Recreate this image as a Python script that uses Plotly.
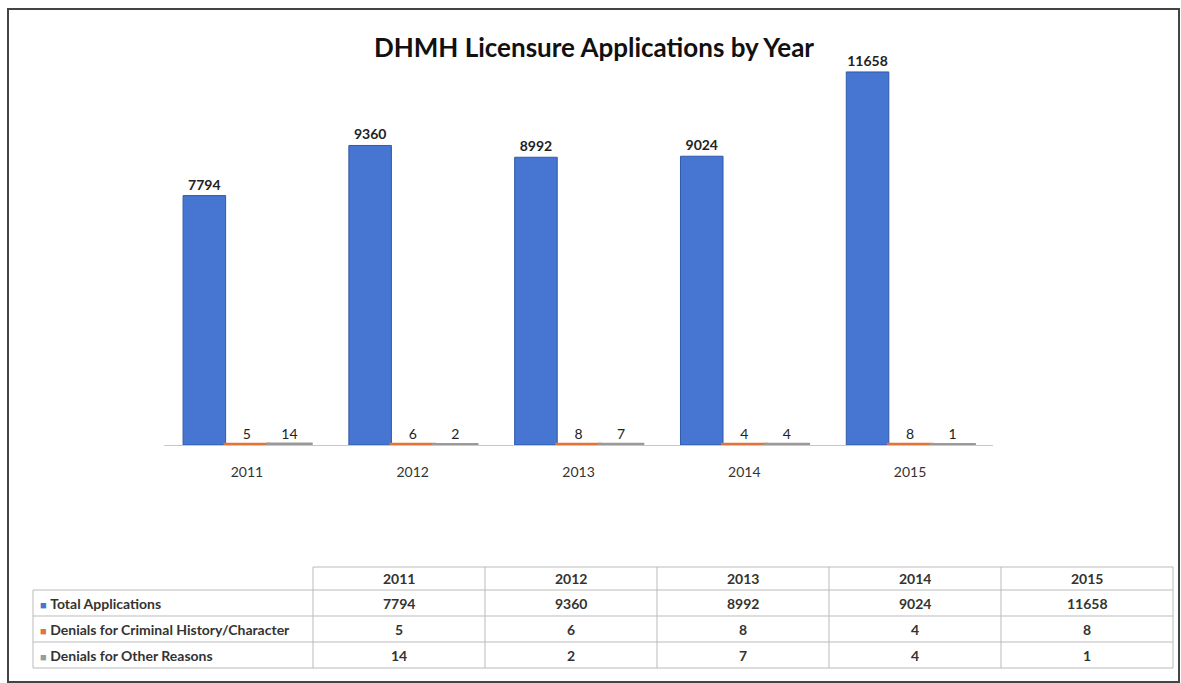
import plotly.graph_objects as go

years = ["2011", "2012", "2013", "2014", "2015"]
total_apps = [7794, 9360, 8992, 9024, 11658]
denials_criminal = [5, 6, 8, 4, 8]
denials_other = [14, 2, 7, 4, 1]
series_names = ["Total Applications", "Denials for Criminal History/Character", "Denials for Other Reasons"]
colors = ["#4675D2", "#E0743A", "#9A9A9A"]

W, H = 1181, 683
def px_x(v): return v / W
def px_y(v): return 1 - v / H

FONT = "Lato"
fig = go.Figure()
fig.add_trace(go.Bar(
    x=years, y=total_apps, name=series_names[0],
    marker=dict(color=colors[0], line=dict(color="#2F5BAA", width=1)),
    text=[str(v) for v in total_apps], textposition="outside",
    textfont=dict(family=FONT, size=14, color="#222222", weight="bold"),
    cliponaxis=False))
fig.add_trace(go.Bar(
    x=years, y=denials_criminal, name=series_names[1],
    marker=dict(color=colors[1], line=dict(color=colors[1], width=4)),
    text=[str(v) for v in denials_criminal], textposition="outside",
    textfont=dict(family=FONT, size=14, color="#222222"),
    cliponaxis=False))
fig.add_trace(go.Bar(
    x=years, y=denials_other, name=series_names[2],
    marker=dict(color=colors[2], line=dict(color=colors[2], width=4)),
    text=[str(v) for v in denials_other], textposition="outside",
    textfont=dict(family=FONT, size=14, color="#222222"),
    cliponaxis=False))

# ---- data table drawn with shapes + annotations ----
col_edges = [33, 313, 485, 657, 829, 1001, 1173]
row_edges = [567, 590, 616, 642, 668]
grid = "#BBBBBB"
shapes = []
# horizontal lines
shapes.append(dict(type="line", xref="paper", yref="paper",
                   x0=px_x(col_edges[1]), x1=px_x(col_edges[-1]),
                   y0=px_y(row_edges[0]), y1=px_y(row_edges[0]),
                   line=dict(color=grid, width=1)))
for r in row_edges[1:]:
    shapes.append(dict(type="line", xref="paper", yref="paper",
                       x0=px_x(col_edges[0]), x1=px_x(col_edges[-1]),
                       y0=px_y(r), y1=px_y(r), line=dict(color=grid, width=1)))
# vertical lines
shapes.append(dict(type="line", xref="paper", yref="paper",
                   x0=px_x(col_edges[0]), x1=px_x(col_edges[0]),
                   y0=px_y(row_edges[1]), y1=px_y(row_edges[-1]),
                   line=dict(color=grid, width=1)))
for c in col_edges[1:]:
    shapes.append(dict(type="line", xref="paper", yref="paper",
                       x0=px_x(c), x1=px_x(c),
                       y0=px_y(row_edges[0]), y1=px_y(row_edges[-1]),
                       line=dict(color=grid, width=1)))
# outer frame
shapes.append(dict(type="rect", xref="paper", yref="paper",
                   x0=px_x(8), x1=px_x(1179), y0=px_y(682), y1=px_y(9),
                   line=dict(color="#444444", width=2)))

annotations = []
tf = dict(family=FONT, size=14, color="#333333")
for j, yr in enumerate(years):
    cx = (col_edges[j + 1] + col_edges[j + 2]) / 2
    cy = (row_edges[0] + row_edges[1]) / 2
    annotations.append(dict(xref="paper", yref="paper", x=px_x(cx), y=px_y(cy),
                            text="<b>%s</b>" % yr, showarrow=False,
                            xanchor="center", yanchor="middle", font=tf))
series_vals = [total_apps, denials_criminal, denials_other]
for i in range(3):
    cy = (row_edges[i + 1] + row_edges[i + 2]) / 2
    annotations.append(dict(xref="paper", yref="paper", x=px_x(col_edges[0] + 5), y=px_y(cy),
                            text="<span style='color:%s;font-size:11px'>■</span> <b>%s</b>"
                                 % (colors[i], series_names[i]),
                            showarrow=False, xanchor="left", yanchor="middle", font=tf))
    for j in range(len(years)):
        cx = (col_edges[j + 1] + col_edges[j + 2]) / 2
        annotations.append(dict(xref="paper", yref="paper", x=px_x(cx), y=px_y(cy),
                                text="<b>%d</b>" % series_vals[i][j], showarrow=False,
                                xanchor="center", yanchor="middle", font=tf))

fig.update_layout(
    width=W, height=H,
    margin=dict(l=0, r=0, t=0, b=0),
    paper_bgcolor="white", plot_bgcolor="white",
    showlegend=False,
    barmode="group", bargap=0.23, bargroupgap=0.0,
    title=dict(text="<b>DHMH Licensure Applications by Year</b>",
               x=px_x(594), y=px_y(48), xanchor="center", yanchor="middle",
               font=dict(family=FONT, size=26, color="#111111")),
    xaxis=dict(domain=[px_x(164), px_x(993)], showgrid=False, showline=True,
               linecolor="#C8C8C8", linewidth=1, ticks="", ticklabelstandoff=14,
               tickfont=dict(family=FONT, size=14, color="#333333")),
    yaxis=dict(domain=[px_y(445), px_y(61)], range=[0, 12000], visible=False),
    shapes=shapes,
    annotations=annotations,
)

fig.write_html("out.html", config={"displayModeBar": False},
               post_script="document.body.style.margin='0px';document.body.style.overflow='hidden';")
